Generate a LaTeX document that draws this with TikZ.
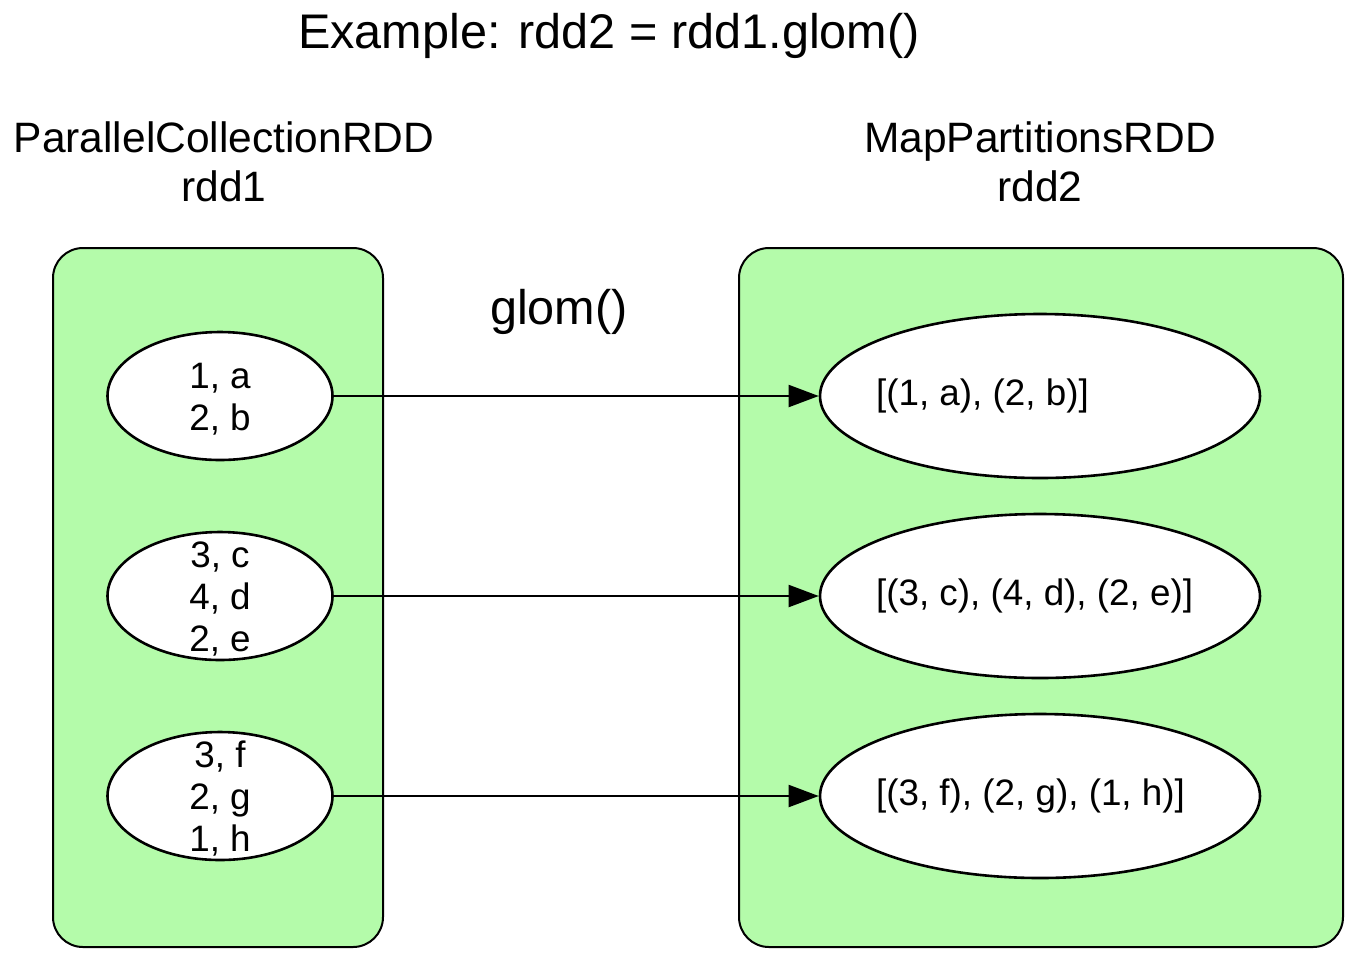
\documentclass[tikz,border=0pt]{standalone}
\usepackage{fontspec}
\setmainfont{Liberation Sans}
\usetikzlibrary{positioning,arrows.meta,shapes.geometric}

\definecolor{rddgreen}{RGB}{180,251,170}

\tikzset{
    rddbox/.style={draw, fill=rddgreen, rounded corners=15pt, line width=1pt},
    leftpart/.style={draw, fill=white, ellipse, line width=1.3pt, minimum width=112.5pt, minimum height=64pt},
    rightpart/.style={draw, fill=white, ellipse, line width=1.3pt, minimum width=220pt, minimum height=82pt},
    parttext/.style={inner sep=0pt, align=center, font=\fontsize{18.4}{21}\selectfont},
    headtext/.style={inner sep=0pt, align=center, font=\fontsize{21.25}{24.5}\selectfont},
    bigtext/.style={inner sep=0pt, anchor=base, font=\fontsize{24.3}{28}\selectfont},
    flow/.style={-{Triangle[length=15pt, width=11pt]}, line width=1pt}
}

\begin{document}
\begin{tikzpicture}[x=0.5pt, y=-0.5pt]
                \useasboundingbox[fill=white] (0,0) rectangle (1360,960);

                % titles
                \node[bigtext] (title) at (609,48) {Example: rdd2 = rdd1.glom()};
                \node[headtext] (rdd1) at (224,162) {ParallelCollectionRDD\\rdd1};
                \node[headtext] (rdd2) at (1040,162) {MapPartitionsRDD\\rdd2};

                % the two RDDs
                \draw[rddbox] (53,248) rectangle (383,947);
                \draw[rddbox] (739,248) rectangle (1343,947);
                \node[bigtext] (glom) at (559,324) {glom()};

                % partitions of rdd1
                \node[leftpart] (l1) at (220,396) {};
                \node[leftpart] (l2) at (220,596) {};
                \node[leftpart] (l3) at (220,796) {};
                \node[parttext] (l1txt) at (220,399) {1, a\\2, b};
                \node[parttext] (l2txt) at (220,599) {3, c\\4, d\\2, e};
                \node[parttext] (l3txt) at (220,799) {3, f\\2, g\\1, h};

                % partitions of rdd2
                \node[rightpart] (r1) at (1040,396) {};
                \node[rightpart] (r2) at (1040,596) {};
                \node[rightpart] (r3) at (1040,796) {};
                \node[parttext, right=28.5pt of r1.west] (r1txt) {[(1, a), (2, b)]};
                \node[parttext, right=28.5pt of r2.west] (r2txt) {[(3, c), (4, d), (2, e)]};
                \node[parttext, right=28.5pt of r3.west] (r3txt) {[(3, f), (2, g), (1, h)]};

                \draw[flow] (l1) -- (r1);
                \draw[flow] (l2) -- (r2);
                \draw[flow] (l3) -- (r3);
\end{tikzpicture}
\end{document}
